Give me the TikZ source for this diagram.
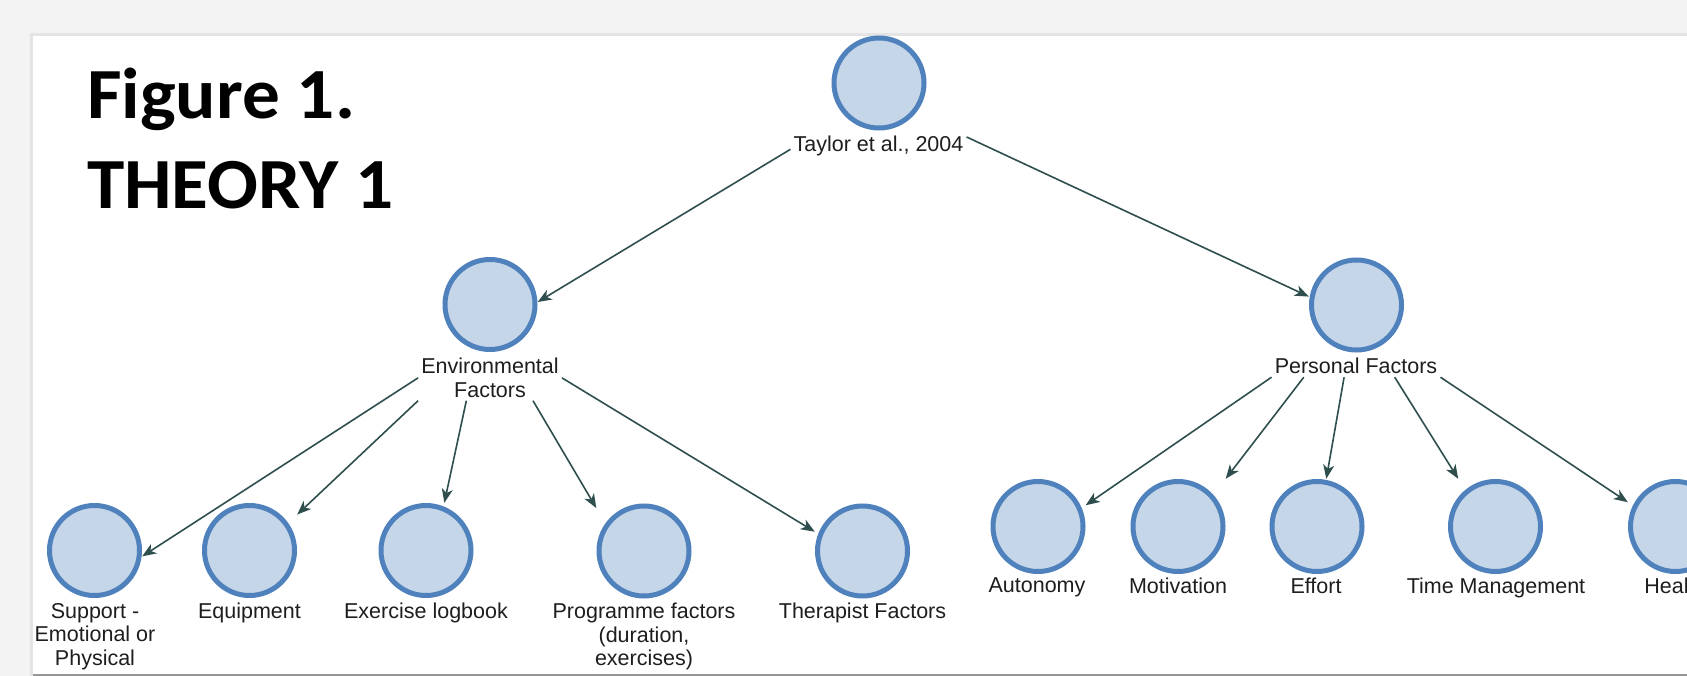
\documentclass[tikz,border=0pt]{standalone}
\usepackage{fontspec}
\setmainfont{Liberation Sans}
\newfontfamily\titlefont[FakeStretch=1.045]{Carlito}
\usetikzlibrary{arrows.meta}
\definecolor{bgg}{RGB}{243,243,243}
\definecolor{shd}{RGB}{228,228,228}
\definecolor{botline}{RGB}{150,150,150}
\definecolor{bubfill}{RGB}{197,214,233}
\definecolor{bubline}{RGB}{79,129,189}
\definecolor{edgec}{RGB}{47,79,79}
\definecolor{txt}{RGB}{30,30,30}
\begin{document}
\begin{tikzpicture}[x=1pt,y=-1pt,
  bub/.style={rectangle, minimum size=95pt, inner sep=0pt,
    path picture={\draw[fill=bubfill, draw=bubline, line width=5pt]
      (path picture bounding box.center) circle[radius=45pt];}},
  lab/.style={anchor=north, inner sep=3pt, align=center, text=txt,
    font=\fontsize{21.5}{23.5}\selectfont},
  conn/.style={draw=edgec, line width=1.6pt,
    -{Stealth[length=14pt,width=11pt,inset=4pt]}},
  ttl/.style={anchor=base west, inner sep=0pt, text=black,
    font=\titlefont\bfseries\fontsize{72}{90}\selectfont}
]
\useasboundingbox (0,0) rectangle (1687,676);
\path[clip] (0,0) rectangle (1687,676);
% background panel
\fill[bgg] (0,0) rectangle (1687,676);
\fill[shd] (30,33) rectangle (1687,676);
\fill[white] (33,36) rectangle (1687,674);
\draw[botline, line width=1.5pt] (33,675) -- (1687,675);

% title
\node[ttl] (title1) at (87,118.3) {Figure 1.};
\node[ttl] (title2) at (87,208.3) {THEORY 1};

% nodes
\node[bub] (root) at (879,83) {};
\node[lab] (rootlab) at (878.5,133) {Taylor et al., 2004};

\node[bub] (env) at (490,304.5) {};
\node[lab] (envlab) at (490,355) {Environmental\\Factors};

\node[bub] (pers) at (1356.5,305) {};
\node[lab] (perslab) at (1356,355) {Personal Factors};

\node[bub] (support) at (94.5,550.5) {};
\node[lab] (supportlab) at (95,600) {Support -\\Emotional or\\Physical};
\node[bub] (equip) at (249.5,550.5) {};
\node[lab] (equiplab) at (249.5,600) {Equipment};
\node[bub] (logbook) at (426,550.5) {};
\node[lab] (logbooklab) at (426,600) {Exercise logbook};
\node[bub] (prog) at (644,551) {};
\node[lab] (proglab) at (644,600) {Programme factors\\(duration,\\exercises)};
\node[bub] (ther) at (862.5,551) {};
\node[lab] (therlab) at (862.5,600) {Therapist Factors};

\node[bub] (auton) at (1038,526.5) {};
\node[lab] (autonlab) at (1037,575) {Autonomy};
\node[bub] (motiv) at (1178,526.5) {};
\node[lab] (motivlab) at (1178,575) {Motivation};
\node[bub] (effort) at (1317,526.5) {};
\node[lab] (effortlab) at (1316,575) {Effort};
\node[bub] (timem) at (1495.5,526.5) {};
\node[lab] (timemlab) at (1496,575) {Time Management};
\node[bub] (health) at (1675.5,526.5) {};
\node[lab] (healthlab) at (1675.5,575) {Health};

% connectors
\draw[conn] (rootlab.182.3) -- (env.3);
\draw[conn] (rootlab.6.1) -- (pers.170.2);

\draw[conn] (envlab.west) -- (support.353.4);
\draw[conn] (envlab.south west) -- (equip.37.5);
\draw[conn] (envlab.224.4) -- (logbook.69);
\draw[conn] (envlab.332.9) -- (prog.138);
\draw[conn] (envlab.east) -- (ther.158.7);

\draw[conn] (perslab.south west) -- (auton.24.1);
\draw[conn] (perslab.192.1) -- (motiv.north east);
\draw[conn] (perslab.223.7) -- (effort.79.3);
\draw[conn] (perslab.344.6) -- (timem.128.3);
\draw[conn] (perslab.south east) -- (health.153.7);
\end{tikzpicture}
\end{document}
